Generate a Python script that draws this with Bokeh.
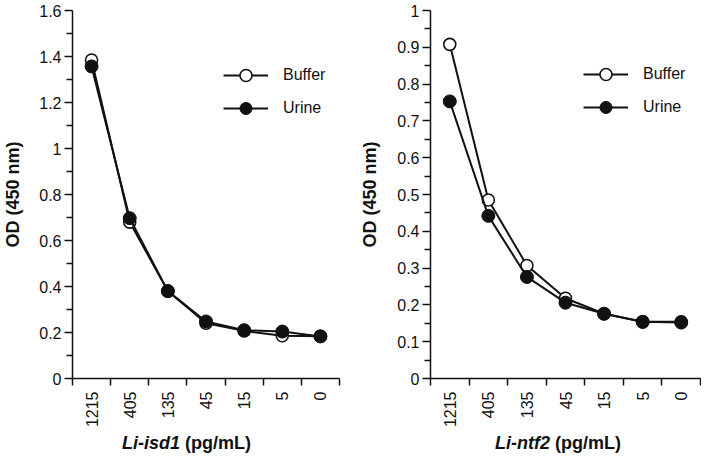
import numpy as np
from bokeh.plotting import figure
from bokeh.models import (FixedTicker, CustomJSTickFormatter, Legend, LegendItem,
                          Range1d, Div)
from bokeh.layouts import row, column
from bokeh.embed import file_html
from bokeh.resources import INLINE

# ---- data ----
conc = ["1215", "405", "135", "45", "15", "5", "0"]
isd1_buffer = [1.385, 0.680, 0.380, 0.240, 0.207, 0.186, 0.184]
isd1_urine = [1.357, 0.697, 0.380, 0.248, 0.210, 0.204, 0.183]
ntf2_buffer = [0.908, 0.485, 0.307, 0.218, 0.176, 0.154, 0.154]
ntf2_urine = [0.753, 0.442, 0.276, 0.206, 0.176, 0.154, 0.152]
series_names = ["Buffer", "Urine"]
y_title = "OD (450 nm)"
x_titles = [("Li-isd1", "(pg/mL)"), ("Li-ntf2", "(pg/mL)")]

FONT = "Liberation Sans"
INK = "#111111"


def make_panel(buf, uri, ymax, ystep, width, height, bl, br, bt, bb,
               legend_xy, ylab_standoff):
    n = len(conc)
    xs = np.arange(n) + 0.5
    p = figure(width=width, height=height, output_backend="svg",
               toolbar_location=None, title=None, x_range=Range1d(0, n),
               y_range=Range1d(0, ymax), min_border_left=bl,
               min_border_right=br, min_border_top=bt, min_border_bottom=bb)
    p.outline_line_color = None
    p.xgrid.visible = False
    p.ygrid.visible = False
    p.background_fill_color = "white"
    p.border_fill_color = "white"

    l1 = p.line(xs, buf, line_color=INK, line_width=2)
    s1 = p.scatter(xs, buf, size=12, fill_color="white", line_color=INK,
                   line_width=1.6)
    l2 = p.line(xs, uri, line_color=INK, line_width=2)
    s2 = p.scatter(xs, uri, size=13, fill_color=INK, line_color=INK,
                   line_width=1)

    # x axis: labels at category centres, ticks at category boundaries
    xa = p.xaxis[0]
    xa.ticker = FixedTicker(ticks=list(xs), minor_ticks=list(np.arange(n + 1)))
    xa.formatter = CustomJSTickFormatter(args=dict(labels=conc),
                                         code="return labels[Math.floor(tick)];")
    xa.major_label_orientation = np.pi / 2
    xa.major_tick_line_color = None
    xa.major_tick_out = 6
    xa.major_tick_in = 0
    xa.minor_tick_out = 7
    xa.minor_tick_in = 0
    xa.minor_tick_line_width = 1.5
    xa.minor_tick_line_color = INK
    xa.major_label_standoff = 6
    xa.axis_line_width = 1.5
    xa.axis_line_color = INK
    xa.major_label_text_font = FONT
    xa.major_label_text_font_size = "16px"
    xa.major_label_text_color = INK

    # y axis
    nt = int(round(ymax / ystep))
    yt = [round(i * ystep, 3) for i in range(nt + 1)]
    ym = [round((i + 0.5) * ystep, 3) for i in range(nt)]
    ya = p.yaxis[0]
    ya.ticker = FixedTicker(ticks=yt, minor_ticks=ym)
    ya.formatter = CustomJSTickFormatter(
        code="return Number(tick.toFixed(2)).toString();")
    ya.major_tick_out = 8
    ya.major_tick_in = 0
    ya.minor_tick_out = 6
    ya.minor_tick_in = 0
    ya.major_tick_line_width = 1.5
    ya.minor_tick_line_width = 1.5
    ya.major_tick_line_color = INK
    ya.minor_tick_line_color = INK
    ya.axis_line_width = 1.5
    ya.axis_line_color = INK
    ya.major_label_standoff = 3
    ya.major_label_text_font = FONT
    ya.major_label_text_font_size = "16px"
    ya.major_label_text_color = INK
    ya.axis_label = y_title
    ya.axis_label_text_font = FONT
    ya.axis_label_text_font_size = "18px"
    ya.axis_label_text_font_style = "bold"
    ya.axis_label_text_color = INK
    ya.axis_label_standoff = ylab_standoff

    legend = Legend(items=[LegendItem(label=series_names[0], renderers=[l1, s1]),
                           LegendItem(label=series_names[1], renderers=[l2, s2])],
                    location=legend_xy, glyph_width=45, glyph_height=30,
                    spacing=3, padding=0, margin=0, label_standoff=15,
                    border_line_color=None, background_fill_alpha=0,
                    label_text_font=FONT, label_text_font_size="16px",
                    label_text_color=INK)
    p.add_layout(legend)
    return p


def make_title(width, height, left_pad, gene, unit):
    html = (f'<div style="font-family:\'{FONT}\';font-size:18px;'
            f'font-weight:bold;color:{INK};line-height:20px;'
            f'white-space:nowrap;padding-left:{left_pad}px;padding-top:3px;">'
            f'<i>{gene}</i> {unit}</div>')
    return Div(text=html, width=width, height=height, margin=0)


W1, W2, H, HS = 352, 349, 430, 26
p1 = make_panel(isd1_buffer, isd1_urine, 1.6, 0.2, W1, H, 67, 13, 10, 49,
                (151, 255), 13)
p2 = make_panel(ntf2_buffer, ntf2_urine, 1.0, 0.1, W2, H, 78, 1, 10, 48,
                (153, 256), 14)
t1 = make_title(W1, HS, 122, *x_titles[0])
t2 = make_title(W2, HS, 143, *x_titles[1])

layout = column(row(p1, p2), row(t1, t2))
open("out.html", "w").write(file_html(layout, INLINE))
